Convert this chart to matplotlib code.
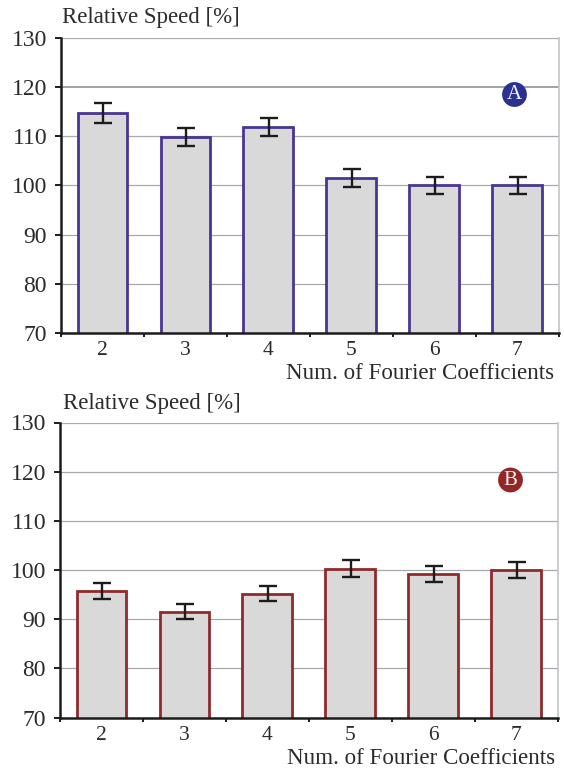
import matplotlib
matplotlib.use('Agg')
import matplotlib.pyplot as plt
import numpy as np

plt.rcParams['font.family'] = ['Liberation Serif', 'DejaVu Serif']

coefficients = ['2', '3', '4', '5', '6', '7']
speed_a = [114.6, 109.8, 111.8, 101.5, 100.0, 100.0]
err_a = [2.0, 1.9, 1.9, 1.8, 1.7, 1.7]
speed_b = [95.8, 91.5, 95.2, 100.3, 99.2, 100.0]
err_b = [1.6, 1.5, 1.6, 1.7, 1.7, 1.7]
y_ticks = [70, 80, 90, 100, 110, 120, 130]

W, H = 564, 769
TEXT = '#2b2b2b'


def panel(box, values, errors, edge, letter, letter_color, letter_xy, label_xy, xlabel_xy):
    left, top, right, bottom = box
    ax = fig.add_axes([left / W, 1 - bottom / H, (right - left) / W, (bottom - top) / H])
    x = np.arange(len(coefficients))
    ax.set_axisbelow(True)
    ax.yaxis.grid(True, color='#a6aaae', lw=0.9)
    ax.bar(x, values, width=0.6, color='#d9d9d9', edgecolor=edge, linewidth=2, zorder=2)
    ax.errorbar(x + 0.01, values, yerr=errors, fmt='none', ecolor='#1c1c1c',
                elinewidth=1.7, capsize=6.2, capthick=1.7, zorder=3)
    ax.set_xlim(-0.5, 5.5)
    ax.set_ylim(70, 130)
    ax.set_yticks(y_ticks)
    ax.set_xticks(np.arange(-0.5, 6, 1))
    ax.set_xticklabels([])
    ax.set_xticks(x, coefficients, minor=True)
    ax.tick_params(axis='x', which='minor', length=0, pad=6, labelsize=15.5, labelcolor=TEXT)
    ax.tick_params(axis='x', which='major', length=3, width=1.4, color='#1c1c1c')
    ax.tick_params(axis='y', length=4, width=1.4, color='#1c1c1c', pad=6, labelsize=17, labelcolor=TEXT)
    for side in ['left', 'bottom']:
        ax.spines[side].set_linewidth(1.8)
        ax.spines[side].set_color('#1c1c1c')
    ax.spines['top'].set_visible(False)
    ax.spines['right'].set_color('#c2c6ca')
    ax.spines['right'].set_linewidth(1.2)

    fig.text(label_xy[0] / W, 1 - label_xy[1] / H, 'Relative Speed [%]', fontsize=16.5,
             color=TEXT, va='center', ha='left')
    fig.text(xlabel_xy[0] / W, 1 - xlabel_xy[1] / H, 'Num. of Fourier Coefficients', fontsize=16.6,
             color=TEXT, va='center', ha='right')
    fig.text(letter_xy[0] / W, 1 - letter_xy[1] / H, letter, fontsize=15, color='#f2f2f2',
             va='center', ha='center',
             bbox=dict(boxstyle='circle,pad=0.14', fc=letter_color, ec='none'), zorder=5)
    return ax


fig = plt.figure(figsize=(W / 100, H / 100), dpi=100)
ax_a = panel((61, 37.5, 558.5, 333), speed_a, err_a, '#4b3592', 'A', '#2b3192', (514.5, 94.5), (62, 18), (554, 374))
ax_a.get_ygridlines()[y_ticks.index(120)].set(color='#8f9295', lw=1.2)
panel((60, 422.5, 557.5, 717.5), speed_b, err_b, '#8f2a2a', 'B', '#942626', (510.5, 480), (63, 403), (555, 759))
fig.savefig('out.png', dpi=100)
